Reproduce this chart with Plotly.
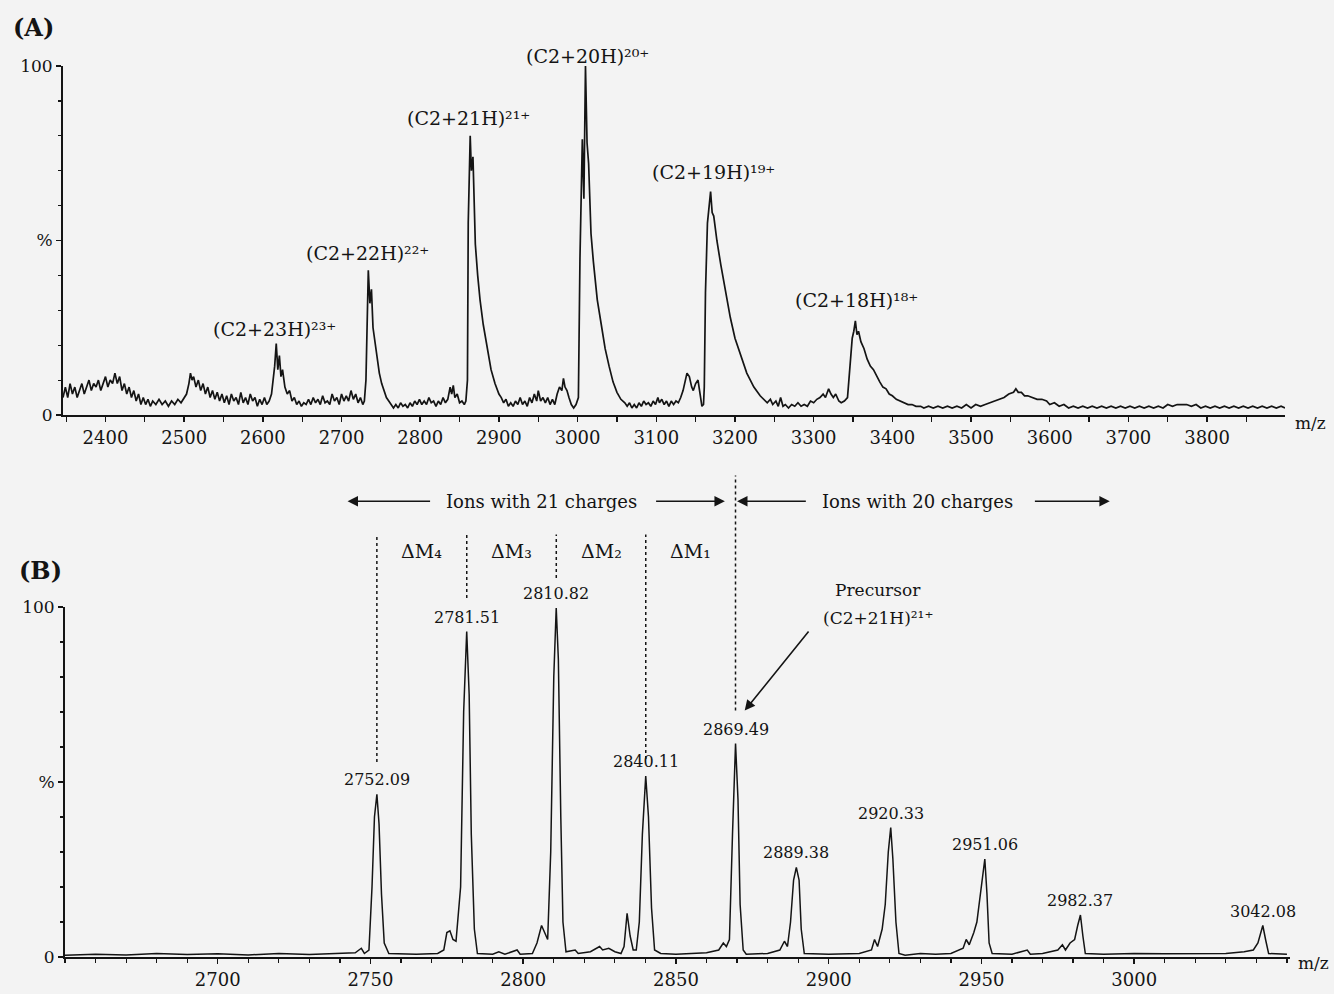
import plotly.graph_objects as go

# ---------------- Panel (A): full scan spectrum ----------------
A_mz = [2346, 2349, 2352, 2355, 2358, 2361, 2364, 2367, 2370, 2373, 2376, 2379, 2382, 2385, 2388,
        2391, 2394, 2397, 2400, 2403, 2406, 2409, 2412, 2415, 2418, 2421, 2424, 2427, 2430, 2433,
        2436, 2439, 2442, 2445, 2448, 2451, 2454, 2457, 2460, 2464, 2468, 2472, 2476, 2480, 2484,
        2488, 2492, 2496, 2500, 2503, 2506, 2508, 2510, 2512, 2515, 2518, 2521, 2524, 2527, 2530,
        2533, 2536, 2539, 2542, 2545, 2548, 2551, 2554, 2557, 2560, 2563, 2566, 2569, 2572, 2575,
        2578, 2581, 2584, 2587, 2590, 2593, 2596, 2599, 2602, 2605, 2608, 2611, 2613, 2615, 2617,
        2619, 2621, 2623, 2625, 2628, 2631, 2634, 2637, 2640, 2643, 2646, 2649, 2652, 2655, 2658,
        2661, 2664, 2667, 2670, 2673, 2676, 2679, 2682, 2685, 2688, 2691, 2694, 2697, 2700, 2703,
        2706, 2709, 2712, 2715, 2718, 2721, 2724, 2727, 2729, 2731, 2732, 2734, 2736, 2738, 2740,
        2742, 2744, 2746, 2748, 2751, 2754, 2757, 2760, 2763, 2766, 2769, 2772, 2775, 2778, 2781,
        2784, 2787, 2790, 2793, 2796, 2799, 2802, 2805, 2808, 2811, 2814, 2817, 2820, 2823, 2826,
        2829, 2832, 2835, 2838, 2840, 2842, 2844, 2847, 2850, 2853, 2856, 2858, 2860, 2861, 2863.5,
        2865, 2867, 2868.5, 2870, 2873, 2876, 2880, 2885, 2890, 2895, 2900, 2903, 2906, 2909, 2912,
        2915, 2918, 2921, 2924, 2927, 2930, 2933, 2936, 2939, 2942, 2945, 2948, 2950, 2953, 2956,
        2959, 2962, 2965, 2968, 2971, 2974, 2977, 2980, 2982, 2984, 2986.5, 2989, 2992, 2995, 2998,
        3001, 3003, 3006, 3008, 3010, 3012, 3014, 3017, 3020, 3025, 3030, 3035, 3040, 3045, 3050,
        3055, 3060, 3063, 3066, 3069, 3072, 3075, 3078, 3081, 3084, 3087, 3090, 3093, 3096, 3099,
        3102, 3104, 3107, 3110, 3113, 3116, 3119, 3122, 3125, 3128, 3131, 3134, 3137, 3139, 3142,
        3145, 3147, 3150, 3153, 3156, 3158, 3160, 3161, 3162.5, 3165, 3169, 3171, 3173, 3177, 3182,
        3188, 3194, 3200, 3207, 3215, 3224, 3232, 3241, 3245, 3248, 3252, 3255, 3258, 3261, 3264,
        3268, 3272, 3276, 3280, 3284, 3288, 3292, 3296, 3300, 3304, 3308, 3312, 3315, 3319, 3322,
        3325, 3328, 3332, 3335, 3339, 3343, 3346, 3349, 3351, 3353, 3355, 3357, 3360, 3364, 3368,
        3372, 3376, 3380, 3384, 3388, 3392, 3396, 3400, 3405, 3410, 3415, 3420, 3425, 3430, 3436,
        3440, 3446, 3452, 3458, 3464, 3470, 3476, 3482, 3488, 3494, 3500, 3506, 3512, 3518, 3524,
        3530, 3536, 3542, 3548, 3554, 3557, 3560, 3564, 3568, 3572, 3578, 3584, 3590, 3596, 3600,
        3606, 3612, 3618, 3624, 3630, 3636, 3642, 3648, 3654, 3660, 3666, 3672, 3678, 3684, 3690,
        3696, 3702, 3708, 3714, 3720, 3726, 3732, 3738, 3744, 3750, 3756, 3762, 3768, 3774, 3780,
        3786, 3792, 3798, 3804, 3810, 3816, 3822, 3828, 3834, 3840, 3846, 3852, 3858, 3864, 3870,
        3876, 3882, 3888, 3894, 3899]
A_int = [5, 8, 5, 9, 6, 8, 5, 7, 9, 6, 8, 10, 7, 9, 8,
         10, 7, 9, 11, 8, 10, 9, 12, 9, 11, 7, 9, 6, 8, 5,
         7, 4, 6, 3, 5, 3, 4.5, 2.5, 4, 3, 4.5, 3, 4, 2.5, 4,
         3, 4.5, 3.5, 5, 6, 9, 12, 10, 11, 8, 10, 7, 9, 6, 8,
         5, 7, 4.5, 6.5, 4, 6, 3.5, 5.5, 3, 6, 4, 5, 3, 6.5, 3.5,
         5, 3, 6, 4, 5, 2.5, 4.5, 3, 5, 3, 4, 6, 10, 14, 20.5,
         13, 17, 11, 13, 8, 6, 7, 4, 5, 3, 4, 2.5, 3.5, 3, 4.5,
         3, 5, 3.5, 4.5, 3, 5.5, 3.5, 4, 3, 6, 4, 5, 3, 6, 4,
         5.5, 4, 7, 4.5, 6, 3.5, 5, 3, 4, 10, 25, 41.5, 32, 36, 25,
         22, 18, 16, 12, 9, 7, 5, 4, 3, 2, 3, 2, 3.5, 2.5, 3,
         2, 3.5, 2.5, 4, 3, 4.5, 3, 4, 3, 5, 3.5, 4, 2.5, 4, 3,
         5, 3.5, 4.5, 8, 6, 8.5, 5, 6, 3.5, 4, 3, 4, 10, 55, 80,
         70, 74, 60, 49, 40, 33, 26, 19, 13, 9, 6, 5, 3.5, 4.5, 2.5,
         3.5, 2.5, 4, 3, 5, 3, 4, 2.5, 5, 3.5, 6, 4, 7, 4, 5,
         3.5, 5, 3, 4.5, 3, 6, 8, 7, 10.5, 8, 7, 5, 3, 2, 3,
         5, 45, 79, 62, 100, 78, 72, 52, 44, 33, 26, 19, 14, 9.5, 6.5,
         4.5, 3.5, 2.5, 3.5, 2, 3, 2, 3.5, 2.5, 4, 3, 3.5, 2.5, 4, 3,
         5, 3.5, 4.5, 3, 4, 2.5, 4, 3, 4, 3.5, 5, 7, 10, 12, 11,
         8, 7, 9, 10, 6, 2.5, 3, 8, 35, 55, 64, 58, 57, 50, 43,
         35, 28, 22, 17, 12, 8, 5.5, 3.5, 4.5, 3, 4, 2.5, 5, 2.5, 3,
         2, 3, 2.5, 3.5, 2.5, 3, 2.5, 4, 3.5, 4.5, 5, 6, 5, 7.5, 6,
         5, 6, 4, 3.5, 4, 5, 14, 22, 24, 27, 23, 24, 21, 19, 16,
         14, 13, 11, 9.5, 8, 7.5, 6, 5.5, 4.5, 4, 3.5, 3, 3, 2.5, 2.5,
         2, 2.5, 2, 2.5, 2, 2.5, 2, 2.5, 2, 3, 2, 3, 2.5, 3, 3.5,
         4, 4.5, 5, 6, 6.5, 7.5, 6.5, 6.5, 5.5, 5.5, 5, 4.5, 4.5, 4, 3,
         3.5, 2.5, 3, 2, 2.5, 2, 2.5, 2, 2.5, 2, 2.5, 2, 2.5, 2, 2.5,
         2, 2.5, 2, 2.5, 2, 2.5, 2, 2.5, 2, 3, 2.5, 3, 3, 3, 2.5,
         3, 2, 2.5, 2, 2.5, 2, 2.5, 2, 2.5, 2, 2.5, 2, 2.5, 2, 2.5,
         2, 2.5, 2, 2.5, 2]
A_ion_labels = ["(C2+23H)²³⁺", "(C2+22H)²²⁺", "(C2+21H)²¹⁺",
                "(C2+20H)²⁰⁺", "(C2+19H)¹⁹⁺", "(C2+18H)¹⁸⁺"]
A_tick_vals = [2400, 2500, 2600, 2700, 2800, 2900, 3000, 3100, 3200, 3300, 3400, 3500, 3600, 3700, 3800]
A_tick_text = ["2400", "2500", "2600", "2700", "2800", "2900", "3000", "3100", "3200", "3300",
               "3400", "3500", "3600", "3700", "3800"]

# ---------------- Panel (B): MS/MS spectrum ----------------
B_mz = [2650, 2660, 2670, 2680, 2690, 2700, 2710, 2720, 2730, 2740, 2745, 2747, 2748, 2749.5, 2750.5,
        2751.3, 2752.1, 2752.8, 2753.6, 2754.5, 2756, 2765, 2772, 2774, 2775, 2776, 2777, 2778, 2779.5,
        2780.5, 2781.5, 2782.3, 2783, 2784, 2785, 2790, 2792, 2794, 2798, 2799, 2803, 2804.5, 2806,
        2807, 2808, 2809, 2810, 2810.8, 2811.5, 2812.3, 2813, 2814, 2817, 2818, 2822, 2825, 2826, 2828,
        2830, 2832, 2833, 2834, 2835, 2836, 2837, 2838, 2839, 2840.1, 2841, 2842, 2843, 2845, 2850,
        2855, 2860, 2864, 2865.5, 2866.5, 2867.5, 2868.5, 2869.5, 2870.3, 2871, 2872, 2873, 2880, 2884,
        2885.5, 2886.5, 2887.5, 2888.5, 2889.4, 2890.3, 2891, 2892, 2900, 2910, 2914, 2915, 2916,
        2917.5, 2918.5, 2919.5, 2920.3, 2921, 2922, 2923, 2925, 2930, 2935, 2940, 2944, 2945, 2946,
        2947.5, 2948.5, 2950, 2951.1, 2951.8, 2952.5, 2953.5, 2960, 2965, 2966, 2970, 2975, 2976.5,
        2977.5, 2979, 2980.5, 2981.5, 2982.4, 2983.2, 2984, 2990, 3000, 3010, 3020, 3030, 3036, 3039,
        3040.5, 3042.1, 3043, 3044, 3050]
B_int = [0.5, 0.8, 0.6, 1.0, 0.7, 0.9, 0.6, 1.0, 0.7, 0.9, 1.2, 2.5, 1.0, 2, 20,
         40, 46.5, 38, 18, 4, 1, 0.8, 1.0, 2, 7, 7.5, 5, 4.5, 20,
         70, 93, 75, 35, 8, 1, 0.8, 1.5, 0.8, 2, 0.8, 1, 4, 9,
         7, 5, 30, 80, 99.7, 85, 40, 10, 1.5, 2, 1, 1.5, 3, 2, 2.5,
         1.5, 1, 3, 12.5, 6, 2, 2, 10, 35, 51.7, 40, 14, 2, 1, 0.8,
         1, 1.2, 2, 4, 3, 5, 35, 61, 45, 15, 2, 0.8, 1, 2,
         4.5, 3, 10, 22, 25.6, 22, 8, 1, 0.8, 1, 2, 5, 3,
         8, 15, 30, 37, 28, 10, 1, 0.5, 1, 0.8, 1, 2.5, 5, 3.5,
         7, 10, 20, 28, 18, 4, 1, 0.8, 2, 0.8, 1, 2, 3.5,
         2, 4, 5, 9, 12, 6, 1, 0.8, 1, 0.9, 1, 1, 1.5, 2,
         4, 9, 5, 1, 0.8]
B_peak_mz = [2752.09, 2781.51, 2810.82, 2840.11, 2869.49, 2889.38, 2920.33, 2951.06, 2982.37, 3042.08]
B_peak_int = [46.5, 93, 99.7, 51.7, 61, 25.6, 37, 28, 12, 9]
B_peak_labels = ["2752.09", "2781.51", "2810.82", "2840.11", "2869.49", "2889.38", "2920.33",
                 "2951.06", "2982.37", "3042.08"]
B_delta_labels = ["ΔM₄", "ΔM₃", "ΔM₂", "ΔM₁"]
B_tick_vals = [2700, 2750, 2800, 2850, 2900, 2950, 3000]
B_tick_text = ["2700", "2750", "2800", "2850", "2900", "2950", "3000"]
Y_tick_vals = [0, 50, 100]
Y_tick_text = ["0", "%", "100"]

# ---------------- styling ----------------
W, H = 1334, 994
INK = "#141414"
BG = "#f3f3f3"
SERIF = "DejaVu Serif"


def fx(p):
    return p / W


def fy(p):
    return 1 - p / H


fig = go.Figure()
fig.add_trace(go.Scatter(x=A_mz, y=A_int, mode="lines", line=dict(color=INK, width=1.7),
                         xaxis="x", yaxis="y", showlegend=False, hoverinfo="skip"))
fig.add_trace(go.Scatter(x=B_mz, y=B_int, mode="lines", line=dict(color=INK, width=1.5),
                         xaxis="x2", yaxis="y2", showlegend=False, hoverinfo="skip"))

tickfont = dict(family=SERIF, size=18, color=INK)
common_x = dict(showgrid=False, zeroline=False, showline=True, linewidth=2, linecolor=INK,
                ticks="outside", ticklen=5, tickwidth=1.5, tickcolor=INK, tickfont=tickfont,
                tickmode="array", fixedrange=True, automargin=False)
common_y = dict(showgrid=False, zeroline=False, showline=True, linewidth=2, linecolor=INK,
                ticks="outside", ticklen=5, tickwidth=1.5, tickcolor=INK,
                tickfont=dict(family=SERIF, size=17, color=INK), tickmode="array",
                tickvals=Y_tick_vals, ticktext=Y_tick_text, range=[0, 100], fixedrange=True,
                automargin=False,
                minor=dict(dtick=10, tick0=0, ticks="outside", ticklen=3, tickwidth=1.2, tickcolor=INK))

fig.update_layout(
    width=W, height=H, margin=dict(l=0, r=0, t=0, b=0, pad=0, autoexpand=False),
    paper_bgcolor=BG, plot_bgcolor=BG, showlegend=False,
    xaxis=dict(common_x, domain=[fx(63), fx(1285)], range=[2346, 3899], anchor="y",
               tickvals=A_tick_vals, ticktext=A_tick_text,
               minor=dict(dtick=50, tick0=2350, ticks="outside", ticklen=5, tickwidth=1.2, tickcolor=INK)),
    yaxis=dict(common_y, domain=[fy(415), fy(66)], anchor="x"),
    xaxis2=dict(common_x, domain=[fx(65), fx(1290)], range=[2650, 3051], anchor="y2",
                tickvals=B_tick_vals, ticktext=B_tick_text,
                minor=dict(dtick=10, tick0=2650, ticks="outside", ticklen=4, tickwidth=1.2, tickcolor=INK)),
    yaxis2=dict(common_y, domain=[fy(957), fy(607)], anchor="x2"),
)


def label(text, x, y, xref, yref, size, **kw):
    d = dict(xref=xref, yref=yref, x=x, y=y, text=text, showarrow=False,
             xanchor="center", yanchor="middle", font=dict(family=SERIF, size=size, color=INK))
    d.update(kw)
    return d


ann = []
# panel letters and axis titles
ann.append(label("<b>(A)</b>", fx(33), fy(28), "paper", "paper", 24))
ann.append(label("<b>(B)</b>", fx(40), fy(570), "paper", "paper", 24))
ann.append(label("m/z", fx(1310), fy(423), "paper", "paper", 17))
ann.append(label("m/z", fx(1313), fy(963), "paper", "paper", 17))

# ion labels in panel A (label centre positions; y in 'y domain' units = % / 100)
A_label_pos = [(2615, 24.5), (2733, 46.5), (2861, 85), (3012, 103), (3173, 69.5), (3355, 33)]
for lab, (lx, ly) in zip(A_ion_labels, A_label_pos):
    ann.append(label(lab, lx, ly / 100, "x", "y domain", 19))

# peak labels in panel B
for mz, h, lab in zip(B_peak_mz, B_peak_int, B_peak_labels):
    ann.append(label(lab, mz, h, "x2", "y2", 16, yanchor="bottom", yshift=3))

# delta-mass labels between consecutive dotted lines
for i, lab in enumerate(B_delta_labels):
    mid = (B_peak_mz[i] + B_peak_mz[i + 1]) / 2
    ann.append(label(lab, mid, 1.16, "x2", "y2 domain", 19))

# charge-state range annotations
ann.append(label("Ions with 21 charges", 2806, 1.302, "x2", "y2 domain", 18))
ann.append(label("Ions with 20 charges", 2929, 1.302, "x2", "y2 domain", 18))
arrows = [(2770, 2742.5), (2843, 2866), (2893, 2870), (2967, 2992)]
for tail, head in arrows:
    ann.append(dict(xref="x2", yref="y2 domain", axref="x2", ayref="y2 domain", x=head, y=1.302,
                    ax=tail, ay=1.302, text="", showarrow=True, arrowhead=2, arrowsize=1.3,
                    arrowwidth=1.6, arrowcolor=INK, standoff=0, startstandoff=0))

# precursor annotation
ann.append(label("Precursor", 2916, 1.049, "x2", "y2 domain", 17))
ann.append(label("(C2+21H)²¹⁺", 2916, 0.968, "x2", "y2 domain", 17))
ann.append(dict(xref="x2", yref="y2 domain", axref="x2", ayref="y2 domain", x=2872.5, y=0.704,
                ax=2893.8, ay=0.934, text="", showarrow=True, arrowhead=2, arrowsize=1.3,
                arrowwidth=1.6, arrowcolor=INK, standoff=0, startstandoff=0))
fig.update_layout(annotations=ann)

# dotted guide lines above the labelled peaks (y in 'y2 domain' units: % / 100)
guide_tops = [120.7, 120.7, 120.7, 120.7, 137.6]
guide_bottoms = [55.7, 102.6, 108.3, 56.6, 70.4]
shapes = []
for mz, top, bot in zip(B_peak_mz[:5], guide_tops, guide_bottoms):
    shapes.append(dict(type="line", xref="x2", yref="y2 domain", x0=mz, x1=mz, y0=bot / 100,
                       y1=top / 100, line=dict(color=INK, width=1.5, dash="dot")))
fig.update_layout(shapes=shapes)

fig.write_html("out.html", config={"displayModeBar": False, "staticPlot": True},
               post_script="document.body.style.margin='0';")
